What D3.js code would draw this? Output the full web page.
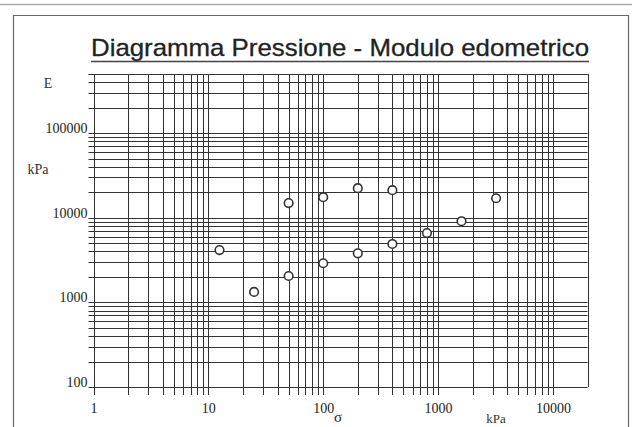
<!DOCTYPE html>
<html>
<head>
<meta charset="utf-8">
<script src="https://cdn.jsdelivr.net/npm/d3@7/dist/d3.min.js"></script>
<style>
html,body{margin:0;padding:0;background:#fff;}
svg{display:block;}
</style>
</head>
<body>
<svg id="chart" width="632" height="427"></svg>
<script>
// Data
const title = "Diagramma  Pressione - Modulo edometrico";
const pressureA = [12.5, 25, 50, 100, 200, 400, 800, 1600, 3200];
const modulusA  = [4150, 1330, 2050, 2900, 3800, 4900, 6600, 9100, 17000];
const pressureB = [50, 100, 200, 400];
const modulusB  = [14900, 17500, 22400, 21200];
const xTickValues = [1, 10, 100, 1000, 10000];
const yTickValues = [100, 1000, 10000, 100000];
const xDomain = [1, 20000];
const yDomain = [100, 500000];

const svg = d3.select("#chart");
const x = d3.scaleLog().domain(xDomain).range([93.5, 587.5]);
const y = d3.scaleLog().domain(yDomain).range([387, 74]);

// Page frame (scanned sheet)
svg.append("line").attr("x1",0).attr("x2",632).attr("y1",4.5).attr("y2",4.5)
  .attr("stroke","#aaa").attr("stroke-width",1.5);
svg.append("path").attr("d","M13.5,440 V15.5 H628.5 V440")
  .attr("fill","none").attr("stroke","#666").attr("stroke-width",1.2);

// Title
svg.append("text").attr("x",91).attr("y",56).text(title)
  .attr("font-family","Liberation Sans, Arial, sans-serif").attr("font-size",24)
  .attr("textLength",498).attr("lengthAdjust","spacingAndGlyphs")
  .attr("fill","#222").attr("stroke","#222").attr("stroke-width",0.3);
svg.append("line").attr("x1",91).attr("x2",589).attr("y1",61.5).attr("y2",61.5)
  .attr("stroke","#444").attr("stroke-width",1.3);

// Grid lines
const minorX = x.ticks(); // 1..9 per decade
const minorY = y.ticks();
const grid = svg.append("g").attr("stroke","#333").attr("stroke-width",1);
grid.selectAll("line.v").data(minorX.concat([xDomain[1]])).enter().append("line")
  .attr("x1",d=>Math.round(x(d))+0.5).attr("x2",d=>Math.round(x(d))+0.5)
  .attr("y1",y(yDomain[1])).attr("y2",d=> d===xDomain[1] ? y(yDomain[0]) : y(yDomain[0])+8);
grid.selectAll("line.h").data(minorY.concat([yDomain[1]])).enter().append("line")
  .attr("y1",d=>Math.round(y(d))+0.5).attr("y2",d=>Math.round(y(d))+0.5)
  .attr("x1",d=> x(xDomain[0])-5).attr("x2",x(xDomain[1]));

// Axes labels via d3 axes (no domain paths)
const serif = "Liberation Serif, Times New Roman, serif";
const xAxis = svg.append("g").attr("transform",`translate(0,${y(yDomain[0])})`)
  .call(d3.axisBottom(x).tickValues(xTickValues).tickFormat(d3.format("d")).tickSize(0).tickPadding(16));
const yAxis = svg.append("g").attr("transform",`translate(${x(xDomain[0])-5},0)`)
  .call(d3.axisLeft(y).tickValues(yTickValues).tickFormat(d3.format("d")).tickSize(0).tickPadding(1));
[xAxis,yAxis].forEach(a=>{
  a.select(".domain").remove();
  a.selectAll("text").attr("font-family",serif).attr("font-size",14).attr("fill","#222");
});
yAxis.selectAll("text").attr("dy","-0.05em");

// Axis titles
svg.append("text").attr("x",48).attr("y",88).text("E")
  .attr("font-family",serif).attr("font-size",14).attr("fill","#333").attr("text-anchor","middle");
svg.append("text").attr("x",38).attr("y",174).text("kPa")
  .attr("font-family",serif).attr("font-size",14).attr("fill","#333").attr("text-anchor","middle");
svg.append("text").attr("x",338).attr("y",422).text("σ")
  .attr("font-family",serif).attr("font-size",15).attr("fill","#222").attr("text-anchor","middle");
svg.append("text").attr("x",496).attr("y",423).text("kPa")
  .attr("font-family",serif).attr("font-size",13).attr("fill","#333").attr("text-anchor","middle");

// Points
const pts = pressureA.map((p,i)=>({p, e:modulusA[i]}))
  .concat(pressureB.map((p,i)=>({p, e:modulusB[i]})));
svg.append("g").selectAll("circle").data(pts).enter().append("circle")
  .attr("cx",d=>x(d.p)).attr("cy",d=>y(d.e)).attr("r",4.3)
  .attr("fill","#fff").attr("stroke","#333").attr("stroke-width",1.6);
</script>
</body>
</html>
